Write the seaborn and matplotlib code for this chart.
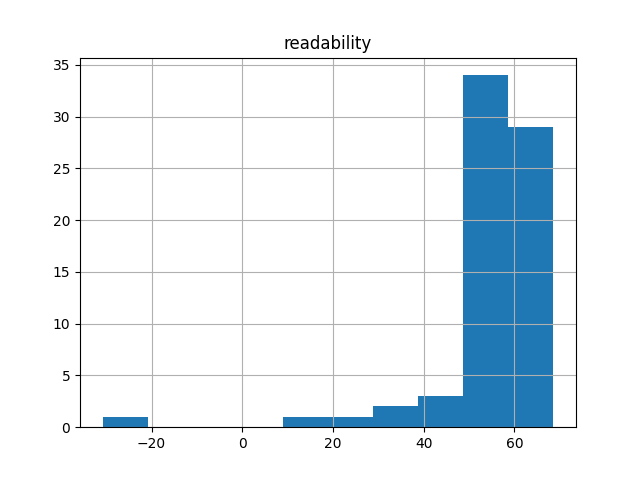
import matplotlib
matplotlib.use("Agg")
import matplotlib.pyplot as plt
import seaborn as sns

# Histogram of "readability" scores: 10 bins
bin_edges = [-30.8, -20.86, -10.92, -0.98, 8.96, 18.9, 28.84, 38.78, 48.72, 58.66, 68.6]
counts = [1, 0, 0, 0, 1, 1, 2, 3, 34, 29]
title = "readability"

centers = [(a + b) / 2 for a, b in zip(bin_edges[:-1], bin_edges[1:])]

fig, ax = plt.subplots(figsize=(6.4, 4.8), dpi=100)
sns.histplot(x=centers, weights=counts, bins=bin_edges, ax=ax,
             color="#1f77b4", alpha=1, linewidth=0, edgecolor="none")
ax.grid(True)
ax.set_title(title)
ax.set_xlabel("")
ax.set_ylabel("")
fig.savefig("out.png", dpi=100)
